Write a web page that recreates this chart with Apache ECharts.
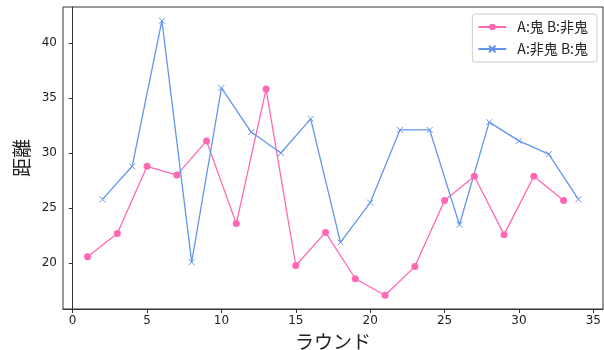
<!DOCTYPE html>
<html><head><meta charset="utf-8">
<script src="https://cdn.jsdelivr.net/npm/echarts@6/dist/echarts.min.js"></script>
<style>html,body{margin:0;padding:0;background:#fff}#c{width:604px;height:350px}</style>
</head><body><div id="c"></div>
<script>
const roundsA = [1,3,5,7,9,11,13,15,17,19,21,23,25,27,29,31,33];
const valuesA = [20.6,22.7,28.8,28.0,31.1,23.6,35.8,19.8,22.8,18.6,17.1,19.7,25.7,27.9,22.6,27.9,25.7];
const roundsB = [2,4,6,8,10,12,14,16,18,20,22,24,26,28,30,32,34];
const valuesB = [25.8,28.8,42.0,20.1,35.9,31.9,30.0,33.1,21.9,25.5,32.1,32.1,23.5,32.8,31.1,29.9,25.8];
const xTicks = [0,5,10,15,20,25,30,35];
const yTicks = [20,25,30,35,40];
const nameA = 'A:鬼 B:非鬼';
const nameB = 'A:非鬼 B:鬼';

const chart = echarts.init(document.getElementById('c'));
const tickFont = {fontFamily:'DejaVu Sans', fontSize:12, color:'#222'};
chart.setOption({
  animation:false,
  grid:{left:63,right:1,top:7,bottom:41,outerBoundsMode:'none',containLabel:false,show:true,borderColor:'#333',borderWidth:1,backgroundColor:'transparent'},
  legend:{
    right:7, top:14, orient:'vertical',
    backgroundColor:'#fff', borderColor:'#ccc', borderWidth:1, borderRadius:3,
    padding:[5,9,5,5], itemGap:6, itemWidth:28, itemHeight:8,
    textStyle:{fontFamily:'Noto Sans CJK JP', fontSize:14, color:'#222', lineHeight:16, padding:[0,0,0,6]},
    data:[nameA,nameB]
  },
  xAxis:{
    type:'value', min:-0.65, max:35.65,
    name:'ラウンド', nameLocation:'middle', nameGap:22,
    nameTextStyle:{fontFamily:'Noto Sans CJK JP', fontSize:19, color:'#222'},
    axisLine:{show:true,lineStyle:{color:'#333'}},
    axisTick:{show:true,length:4,customValues:xTicks,lineStyle:{color:'#333'}},
    axisLabel:Object.assign({customValues:xTicks,margin:6},tickFont),
    splitLine:{show:false}
  },
  yAxis:{
    type:'value', min:15.855, max:43.245,
    name:'距離', nameLocation:'middle', nameGap:22, nameRotate:90,
    nameTextStyle:{fontFamily:'Noto Sans CJK JP', fontSize:19, color:'#222'},
    axisLine:{show:true,lineStyle:{color:'#333'}},
    axisTick:{show:true,length:4,customValues:yTicks,lineStyle:{color:'#333'}},
    axisLabel:Object.assign({customValues:yTicks,margin:6},tickFont),
    splitLine:{show:false}
  },
  series:[
    {name:nameA,type:'line',data:roundsA.map((r,i)=>[r,valuesA[i]]),
     symbol:'circle',symbolSize:7,showAllSymbol:true,
     lineStyle:{color:'#ff69b4',width:1.3},itemStyle:{color:'#ff69b4'}},
    {name:nameB,type:'line',data:roundsB.map((r,i)=>[r,valuesB[i]]),
     symbol:'path://M0,0L10,10M10,0L0,10',symbolSize:6,showAllSymbol:true,
     lineStyle:{color:'#6495ed',width:1.3},
     itemStyle:{color:'#6495ed',borderColor:'#6495ed',borderWidth:1}}
  ]
});
</script></body></html>
